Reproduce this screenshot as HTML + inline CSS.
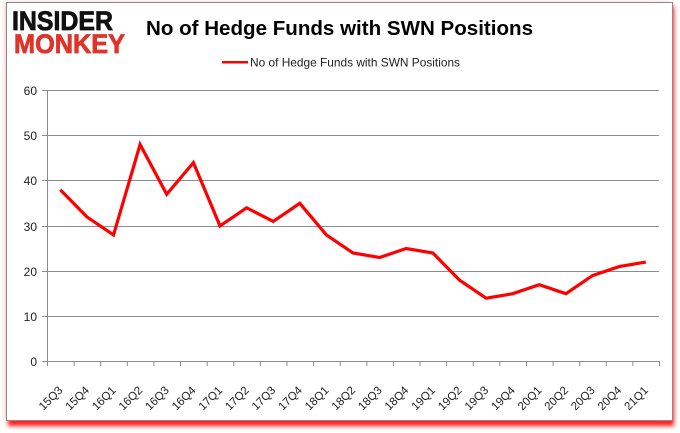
<!DOCTYPE html>
<html><head><meta charset="utf-8"><style>
html,body{margin:0;padding:0;background:#fff;}
svg{display:block;}
</style></head><body>
<svg width="680" height="433" viewBox="0 0 680 433" xmlns="http://www.w3.org/2000/svg">
<defs>
<filter id="b" x="-5%" y="-5%" width="110%" height="110%"><feGaussianBlur stdDeviation="2"/></filter>
</defs>
<rect x="0" y="0" width="680" height="433" fill="#fff"/>
<rect x="8" y="6" width="666" height="420" fill="#ff0000" filter="url(#b)" opacity="0.9"/>
<rect x="4" y="1" width="666" height="418" fill="#f6c8c8" filter="url(#b)" opacity="0.6"/>
<rect x="6.5" y="2.5" width="666" height="418" fill="#fff" stroke="#8a8a8a" stroke-width="1"/>

<!-- logo -->
<text x="12" y="30" font-family="Liberation Sans, sans-serif" font-weight="bold" font-size="27" fill="#111" stroke="#111" stroke-width="0.8" textLength="101" lengthAdjust="spacingAndGlyphs">INSIDER</text>
<text x="14" y="53" font-family="Liberation Sans, sans-serif" font-weight="bold" font-size="27" fill="#e0342a" stroke="#e0342a" stroke-width="0.8" textLength="111" lengthAdjust="spacingAndGlyphs">MONKEY</text>

<!-- title -->
<text x="146" y="35" font-family="Liberation Sans, sans-serif" font-weight="bold" font-size="20" fill="#000" textLength="387" lengthAdjust="spacingAndGlyphs">No of Hedge Funds with SWN Positions</text>

<!-- legend -->
<line x1="222" y1="62.3" x2="248" y2="62.3" stroke="#ff0000" stroke-width="2.5"/>
<text x="250" y="66.5" font-family="Liberation Sans, sans-serif" font-size="12" fill="#222" textLength="210" lengthAdjust="spacingAndGlyphs">No of Hedge Funds with SWN Positions</text>

<!-- gridlines -->
<g stroke="#8c8c8c" stroke-width="1">
<line x1="42" y1="90.5" x2="659" y2="90.5"/>
<line x1="42" y1="135.5" x2="659" y2="135.5"/>
<line x1="42" y1="180.5" x2="659" y2="180.5"/>
<line x1="42" y1="226.5" x2="659" y2="226.5"/>
<line x1="42" y1="271.5" x2="659" y2="271.5"/>
<line x1="42" y1="316.5" x2="659" y2="316.5"/>
<line x1="42" y1="361.5" x2="659" y2="361.5"/>
<line x1="47.5" y1="90" x2="47.5" y2="362"/>
</g>
<g stroke="#8c8c8c" stroke-width="1">
<line x1="47.5" y1="361" x2="47.5" y2="366"/>
<line x1="74.1" y1="361" x2="74.1" y2="366"/>
<line x1="100.7" y1="361" x2="100.7" y2="366"/>
<line x1="127.3" y1="361" x2="127.3" y2="366"/>
<line x1="153.9" y1="361" x2="153.9" y2="366"/>
<line x1="180.5" y1="361" x2="180.5" y2="366"/>
<line x1="207.2" y1="361" x2="207.2" y2="366"/>
<line x1="233.8" y1="361" x2="233.8" y2="366"/>
<line x1="260.4" y1="361" x2="260.4" y2="366"/>
<line x1="287.0" y1="361" x2="287.0" y2="366"/>
<line x1="313.6" y1="361" x2="313.6" y2="366"/>
<line x1="340.2" y1="361" x2="340.2" y2="366"/>
<line x1="366.8" y1="361" x2="366.8" y2="366"/>
<line x1="393.4" y1="361" x2="393.4" y2="366"/>
<line x1="420.0" y1="361" x2="420.0" y2="366"/>
<line x1="446.6" y1="361" x2="446.6" y2="366"/>
<line x1="473.3" y1="361" x2="473.3" y2="366"/>
<line x1="499.9" y1="361" x2="499.9" y2="366"/>
<line x1="526.5" y1="361" x2="526.5" y2="366"/>
<line x1="553.1" y1="361" x2="553.1" y2="366"/>
<line x1="579.7" y1="361" x2="579.7" y2="366"/>
<line x1="606.3" y1="361" x2="606.3" y2="366"/>
<line x1="632.9" y1="361" x2="632.9" y2="366"/>
<line x1="659.5" y1="361" x2="659.5" y2="366"/>
</g>

<!-- y labels -->
<g font-family="Liberation Sans, sans-serif" font-size="12" fill="#222" text-anchor="end">
<text x="37" y="95">60</text>
<text x="37" y="140">50</text>
<text x="37" y="185">40</text>
<text x="37" y="231">30</text>
<text x="37" y="276">20</text>
<text x="37" y="321">10</text>
<text x="37" y="366">0</text>
</g>

<!-- series -->
<polyline fill="none" stroke="#ff0000" stroke-width="3.2" stroke-linejoin="miter" points="60.3,189.7 86.9,216.9 113.5,234.9 140.1,144.5 166.7,194.3 193.4,162.6 220.0,225.9 246.6,207.8 273.2,221.4 299.8,203.3 326.4,234.9 353.0,253.0 379.6,257.5 406.2,248.5 432.9,253.0 459.5,280.1 486.1,298.2 512.7,293.7 539.3,284.7 565.9,293.7 592.5,275.6 619.1,266.6 645.8,262.1"/>

<!-- x labels -->
<g font-family="Liberation Sans, sans-serif" font-size="11.5" fill="#222" text-anchor="end">
<text transform="translate(63.3,391) rotate(-45)">15Q3</text>
<text transform="translate(89.9,391) rotate(-45)">15Q4</text>
<text transform="translate(116.5,391) rotate(-45)">16Q1</text>
<text transform="translate(143.1,391) rotate(-45)">16Q2</text>
<text transform="translate(169.7,391) rotate(-45)">16Q3</text>
<text transform="translate(196.4,391) rotate(-45)">16Q4</text>
<text transform="translate(223.0,391) rotate(-45)">17Q1</text>
<text transform="translate(249.6,391) rotate(-45)">17Q2</text>
<text transform="translate(276.2,391) rotate(-45)">17Q3</text>
<text transform="translate(302.8,391) rotate(-45)">17Q4</text>
<text transform="translate(329.4,391) rotate(-45)">18Q1</text>
<text transform="translate(356.0,391) rotate(-45)">18Q2</text>
<text transform="translate(382.6,391) rotate(-45)">18Q3</text>
<text transform="translate(409.2,391) rotate(-45)">18Q4</text>
<text transform="translate(435.9,391) rotate(-45)">19Q1</text>
<text transform="translate(462.5,391) rotate(-45)">19Q2</text>
<text transform="translate(489.1,391) rotate(-45)">19Q3</text>
<text transform="translate(515.7,391) rotate(-45)">19Q4</text>
<text transform="translate(542.3,391) rotate(-45)">20Q1</text>
<text transform="translate(568.9,391) rotate(-45)">20Q2</text>
<text transform="translate(595.5,391) rotate(-45)">20Q3</text>
<text transform="translate(622.1,391) rotate(-45)">20Q4</text>
<text transform="translate(648.8,391) rotate(-45)">21Q1</text>
</g>
</svg>
</body></html>
